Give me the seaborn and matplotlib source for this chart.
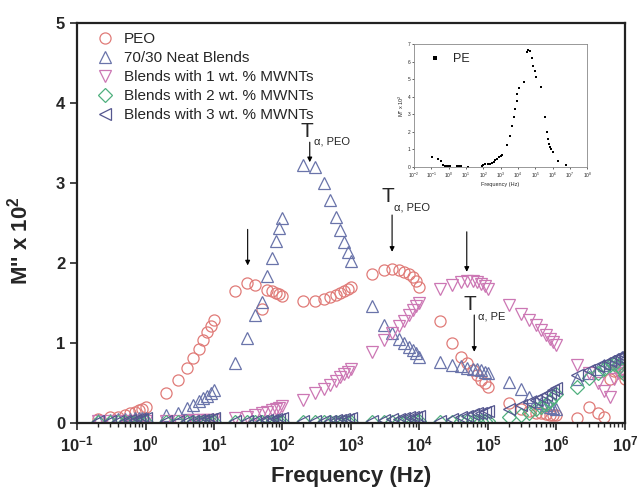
import matplotlib
matplotlib.use("Agg")
import matplotlib.pyplot as plt
import seaborn as sns

# frequency sweep (Hz), 9 points per decade segment
freq = [0.2, 0.3, 0.4, 0.5, 0.6, 0.7, 0.8, 0.9, 1.0,
        2, 3, 4, 5, 6, 7, 8, 9, 10,
        20, 30, 40, 50, 60, 70, 80, 90, 100,
        200, 300, 400, 500, 600, 700, 800, 900, 1e3,
        2e3, 3e3, 4e3, 5e3, 6e3, 7e3, 8e3, 9e3, 1e4,
        2e4, 3e4, 4e4, 5e4, 6e4, 7e4, 8e4, 9e4, 1e5,
        2e5, 3e5, 4e5, 5e5, 6e5, 7e5, 8e5, 9e5, 1e6,
        2e6, 3e6, 4e6, 5e6, 6e6, 7e6, 8e6, 9e6, 1e7]

peo = [0.05, 0.07, 0.08, 0.10, 0.12, 0.14, 0.16, 0.18, 0.20,
       0.37, 0.54, 0.69, 0.81, 0.92, 1.04, 1.14, 1.21, 1.29,
       1.65, 1.75, 1.72, 1.42, 1.66, 1.65, 1.63, 1.61, 1.59,
       1.53, 1.53, 1.55, 1.57, 1.60, 1.62, 1.65, 1.67, 1.70,
       1.86, 1.91, 1.92, 1.91, 1.89, 1.86, 1.82, 1.77, 1.70,
       1.27, 1.00, 0.83, 0.75, 0.66, 0.60, 0.54, 0.50, 0.45,
       0.25, 0.18, 0.15, 0.13, 0.12, 0.11, 0.10, 0.10, 0.10,
       0.06, 0.20, 0.13, 0.07, 0.55, 0.65, 0.70, 0.62, 0.55]

neat = [0.04, 0.04, 0.05, 0.05, 0.05, 0.06, 0.06, 0.06, 0.06,
        0.10, 0.13, 0.19, 0.23, 0.27, 0.31, 0.34, 0.38, 0.41,
        0.75, 1.06, 1.35, 1.51, 1.84, 2.06, 2.27, 2.44, 2.56,
        3.23, 3.20, 3.00, 2.79, 2.58, 2.41, 2.26, 2.14, 2.03,
        1.46, 1.22, 1.12, 1.05, 1.00, 0.95, 0.91, 0.87, 0.83,
        0.76, 0.73, 0.71, 0.69, 0.68, 0.67, 0.66, 0.64, 0.62,
        0.51, 0.42, 0.33, 0.28, 0.25, 0.22, 0.20, 0.19, 0.18,
        0.55, 0.62, 0.68, 0.72, 0.75, 0.78, 0.80, 0.82, 0.83]

wt1 = [0.02, 0.02, 0.02, 0.02, 0.03, 0.03, 0.03, 0.03, 0.03,
       0.03, 0.03, 0.03, 0.04, 0.04, 0.04, 0.04, 0.04, 0.04,
       0.06, 0.08, 0.10, 0.12, 0.14, 0.16, 0.18, 0.19, 0.21,
       0.29, 0.37, 0.43, 0.48, 0.53, 0.57, 0.61, 0.64, 0.67,
       0.89, 1.04, 1.13, 1.21, 1.28, 1.35, 1.41, 1.46, 1.50,
       1.68, 1.73, 1.76, 1.77, 1.77, 1.76, 1.74, 1.71, 1.67,
       1.48, 1.36, 1.29, 1.22, 1.16, 1.10, 1.05, 1.01, 0.97,
       0.72, 0.62, 0.50, 0.40, 0.33, 0.55, 0.62, 0.65, 0.60]

wt2 = [0.01, 0.01, 0.01, 0.01, 0.01, 0.01, 0.01, 0.01, 0.01,
       0.01, 0.01, 0.01, 0.01, 0.01, 0.01, 0.01, 0.01, 0.01,
       0.01, 0.01, 0.01, 0.01, 0.01, 0.01, 0.01, 0.01, 0.01,
       0.01, 0.01, 0.01, 0.01, 0.01, 0.01, 0.01, 0.01, 0.01,
       0.01, 0.01, 0.01, 0.01, 0.01, 0.01, 0.01, 0.02, 0.02,
       0.01, 0.01, 0.02, 0.02, 0.02, 0.02, 0.03, 0.03, 0.03,
       0.08, 0.10, 0.13, 0.17, 0.20, 0.24, 0.28, 0.32, 0.36,
       0.45, 0.56, 0.63, 0.68, 0.72, 0.74, 0.72, 0.66, 0.60]

wt3 = [0.02, 0.02, 0.03, 0.03, 0.04, 0.04, 0.05, 0.05, 0.06,
       0.02, 0.02, 0.03, 0.03, 0.04, 0.04, 0.05, 0.05, 0.06,
       0.02, 0.02, 0.03, 0.03, 0.04, 0.04, 0.05, 0.05, 0.06,
       0.02, 0.02, 0.03, 0.03, 0.04, 0.04, 0.05, 0.05, 0.06,
       0.03, 0.04, 0.05, 0.05, 0.06, 0.07, 0.07, 0.08, 0.09,
       0.03, 0.05, 0.07, 0.09, 0.11, 0.12, 0.13, 0.14, 0.15,
       0.18, 0.22, 0.26, 0.29, 0.32, 0.35, 0.38, 0.41, 0.44,
       0.60, 0.66, 0.71, 0.74, 0.77, 0.80, 0.82, 0.84, 0.85]

labels = ["PEO", "70/30 Neat Blends", "Blends with 1 wt. % MWNTs",
          "Blends with 2 wt. % MWNTs", "Blends with 3 wt. % MWNTs"]

# inset: neat PE
pe_freq = [0.11, 0.23, 0.36, 0.5, 0.63, 0.8, 1.0, 1.26, 3.2, 4.0, 5.0, 12.6,
           80, 100, 126, 200, 250, 320, 400, 500, 630, 790, 1000, 1150,
           2300, 3500, 4800, 5800, 6900, 8700, 9100, 11500,
           22000, 32000, 40000, 50000, 63000, 72000, 91000, 110000,
           230000, 360000, 460000, 580000, 630000, 720000, 850000, 1000000,
           2000000, 5800000]
pe_val = [0.56, 0.48, 0.37, 0.12, 0.08, 0.06, 0.08, 0.05, 0.08, 0.05, 0.05, 0.02,
          0.08, 0.13, 0.17, 0.15, 0.17, 0.22, 0.30, 0.38, 0.48, 0.55, 0.62, 0.67,
          1.23, 1.77, 2.33, 2.83, 3.29, 3.73, 4.17, 4.52,
          4.85, 6.52, 6.67, 6.58, 6.19, 5.75, 5.48, 5.13,
          4.56, 2.83, 2.02, 1.58, 1.33, 1.15, 1.0, 0.85,
          0.37, 0.13]

sns.set_style("ticks")
plt.rcParams["font.family"] = ["Liberation Sans", "DejaVu Sans"]
plt.rcParams["mathtext.fontset"] = "custom"
plt.rcParams["mathtext.rm"] = "Liberation Sans"
plt.rcParams["mathtext.bf"] = "Liberation Sans:bold"
plt.rcParams["mathtext.it"] = "Liberation Sans:italic"

fig = plt.figure(figsize=(6.38, 4.97), dpi=100)
ax = fig.add_axes([0.1207, 0.1489, 0.8589, 0.8048])

series = [peo, neat, wt1, wt2, wt3]
markers = ["o", "^", "v", "D", "<"]
colors = ["#e07b78", "#6a74aa", "#cc77b4", "#4fb07e", "#55578f"]
sizes = [8, 8.5, 8.5, 7, 8.5]

for vals, mk, c, lab, ms in zip(series, markers, colors, labels, sizes):
    sns.lineplot(x=freq, y=vals, ax=ax, estimator=None, sort=False,
                 marker=mk, linestyle="", mfc="none", mec=c, color=c,
                 ms=ms, mew=0.9, label=lab)

ax.set_xscale("log")
ax.set_xlim(0.1, 1e7)
ax.set_ylim(0, 5)
ax.set_yticks([0, 1, 2, 3, 4, 5])
ax.set_yticklabels(["0", "1", "2", "3", "4", "5"], fontweight="bold", fontsize=12)
xt = [10.0 ** k for k in range(-1, 8)]
ax.set_xticks(xt)
ax.set_xticklabels([r"$\mathbf{10^{%d}}$" % k for k in range(-1, 8)], fontsize=12)
ax.tick_params(axis="both", which="major", length=5, width=1.2, direction="out")
ax.tick_params(axis="x", which="minor", length=3, width=1.0, direction="out")
for s in ax.spines.values():
    s.set_linewidth(1.6)
    s.set_color("#222222")

ax.set_xlabel("Frequency (Hz)", fontsize=16, fontweight="bold", labelpad=8)
ax.set_ylabel(r"M'' x 10$^\mathbf{2}$", fontsize=16, fontweight="bold")
ax.yaxis.set_label_coords(-0.082, 0.455)

ax.legend(loc="upper left", frameon=False, fontsize=11, handletextpad=0.6,
          labelspacing=0.33, borderaxespad=0.2, handlelength=1.2,
          bbox_to_anchor=(0.018, 1.0))

arrow = dict(arrowstyle="-|>", color="k", lw=0.8, mutation_scale=7,
             shrinkA=0, shrinkB=0)
for xa, y0, y1 in [(31, 2.42, 1.97), (250, 3.51, 3.26), (3980, 2.60, 2.14),
                   (49000, 2.39, 1.89), (63000, 1.35, 0.89)]:
    ax.annotate("", xy=(xa, y1), xytext=(xa, y0), arrowprops=arrow)

for xt_, yt_, xs_, ys_, sub in [(230, 3.64, 285, 3.52, "\u03b1, PEO"),
                                (3400, 2.83, 4300, 2.70, "\u03b1, PEO"),
                                (55000, 1.48, 72000, 1.33, "\u03b1, PE")]:
    ax.text(xt_, yt_, "T", fontsize=15, ha="center", va="center")
    ax.text(xs_, ys_, sub, fontsize=8, ha="left", va="center")

# inset
ins = ax.inset_axes([0.615, 0.64, 0.316, 0.3075])
sns.scatterplot(x=pe_freq, y=pe_val, ax=ins, marker="s", s=3, color="k",
                edgecolor="k", linewidth=0, label="PE")
ins.set_xscale("log")
ins.set_xlim(1e-2, 1e8)
ins.set_ylim(0, 7)
ins.set_xticks([10.0 ** k for k in range(-2, 9)])
ins.set_xticklabels([r"10$^{%d}$" % k for k in range(-2, 9)], fontsize=3.5)
ins.set_yticks(range(0, 8))
ins.set_yticklabels([str(k) for k in range(0, 8)], fontsize=3.5)
ins.xaxis.set_minor_locator(matplotlib.ticker.NullLocator())
ins.tick_params(length=1.5, width=0.5, pad=1)
ins.set_xlabel("Frequency (Hz)", fontsize=4, labelpad=1.5)
ins.set_ylabel(r"M'' x 10$^2$", fontsize=4, labelpad=1.5)
for s in ins.spines.values():
    s.set_linewidth(0.6)
    s.set_color("#888888")
ins.legend(loc="upper left", frameon=False, fontsize=9, handletextpad=0.4,
           markerscale=1.5, borderaxespad=0.3)

fig.savefig("out.png", dpi=100)
